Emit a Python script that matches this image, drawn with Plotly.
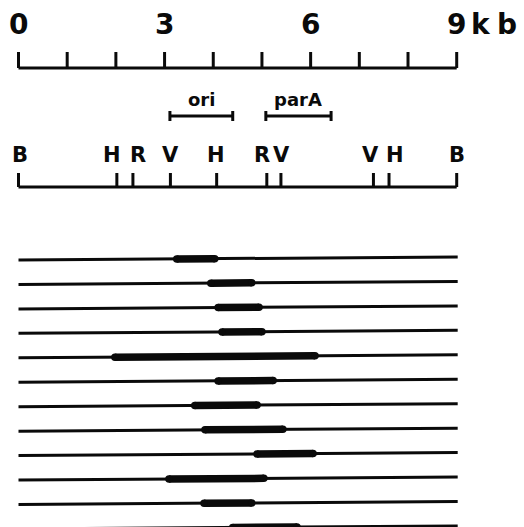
import plotly.graph_objects as go

# ---- data (kb) ----
scale_kb = [0, 1, 2, 3, 4, 5, 6, 7, 8, 9]
scale_label_kb = [0, 3, 6, 9]
scale_label_txt = ["0", "3", "6", "9"]
site_names = ["B", "H", "R", "V", "H", "R", "V", "V", "H", "B"]
site_kb = [0.0, 2.02, 2.35, 3.12, 4.07, 5.10, 5.39, 7.29, 7.61, 9.0]
region_names = ["ori", "parA"]
region_start = [3.11, 5.08]
region_end = [4.40, 6.42]
bubble_start = [3.25, 3.95, 4.10, 4.18, 1.98, 4.10, 3.62, 3.83, 4.90, 3.09, 3.81, 4.40]
bubble_end = [4.03, 4.79, 4.94, 5.00, 6.09, 5.23, 4.90, 5.43, 6.05, 5.04, 4.79, 5.72]
molecule_len = 9.02

# ---- layout (pixels) ----
W, H = 524, 527
px_per_kb = (456.7 - 18.5) / 9
x0 = -18.5 / px_per_kb
x1 = (W - 18.5) / px_per_kb
FONT = "DejaVu Sans"
BLACK = "#0a0a0a"
# horizontal nudges (px) that spread the site letters apart as in the figure
label_nudge_px = [1, -5, 5, 0, -1, -5, 1, -3, 6, 0]

fig = go.Figure()

def seg(xs, ys, width, color=BLACK):
    fig.add_trace(go.Scatter(x=xs, y=ys, mode="lines",
                             line=dict(color=color, width=width),
                             hoverinfo="skip", showlegend=False))

def label(x, y, text, size):
    fig.add_annotation(x=x, y=y, text=f"<b>{text}</b>", showarrow=False,
                       font=dict(family=FONT, size=size, color=BLACK),
                       xanchor="center", yanchor="middle")

# scale bar
y_scale = 68
sx, sy = [0, 9, None], [y_scale, y_scale, None]
for k in scale_kb:
    sx += [k, k, None]
    sy += [y_scale, 52, None]
seg(sx, sy, 3)
for k, t in zip(scale_label_kb, scale_label_txt):
    label(k, 24, t, 28)
label(9 + (481 - 456.7) / px_per_kb, 24, "k", 28)
label(9 + (507 - 456.7) / px_per_kb, 24, "b", 28)

# ori / parA brackets
y_br = 116
bx, by = [], []
for n, a, b in zip(region_names, region_start, region_end):
    bx += [a, b, None, a, a, None, b, b, None]
    by += [y_br, y_br, None, y_br - 5, y_br + 5, None, y_br - 5, y_br + 5, None]
    label((a + b) / 2, 99, n, 18)
seg(bx, by, 3)

# restriction map
y_map = 187
mx, my = [0, 9, None], [y_map, y_map, None]
for k, n, dx in zip(site_kb, site_names, label_nudge_px):
    mx += [k, k, None]
    my += [y_map, 173, None]
    label(k + dx / px_per_kb, 155, n, 21)
seg(mx, my, 3)

# molecules with replication bubbles
y_first, dy, tilt = 258.5, 24.45, 3.0
def ymol(i, x):
    return y_first + i * dy + tilt / 2 - tilt * x / 9

for i, (a, b) in enumerate(zip(bubble_start, bubble_end)):
    seg([0, molecule_len], [ymol(i, 0), ymol(i, molecule_len)], 3)
    seg([a, b], [ymol(i, a), ymol(i, b)], 7.5)
    fig.add_trace(go.Scatter(x=[a, b], y=[ymol(i, a), ymol(i, b)], mode="markers",
                             marker=dict(color=BLACK, size=7.5, line=dict(width=0)),
                             hoverinfo="skip", showlegend=False))

fig.update_layout(width=W, height=H, margin=dict(l=0, r=0, t=0, b=0),
                  paper_bgcolor="white", plot_bgcolor="white", showlegend=False)
fig.update_xaxes(range=[x0, x1], visible=False, fixedrange=True)
fig.update_yaxes(range=[H, 0], visible=False, fixedrange=True)
fig.write_html("out.html", config={"displayModeBar": False},
               post_script="document.body.style.margin='0';document.body.style.overflow='hidden';")
